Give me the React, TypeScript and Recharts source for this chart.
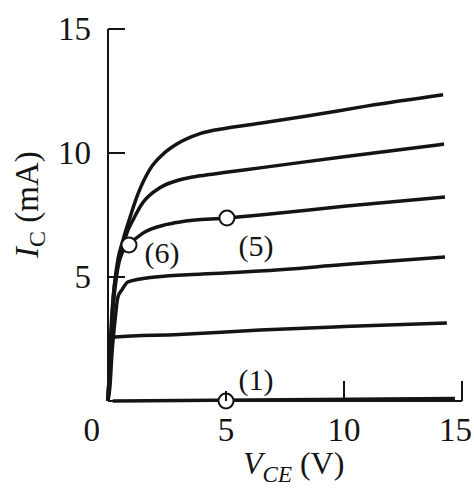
import { LineChart, Line, XAxis, YAxis, ReferenceDot } from 'recharts';

// collector characteristics, [V_CE (V), I_C (mA)], one array per base current
const curveTop = [[0, 0], [0.05, 1.0], [0.13, 2.9], [0.3, 4.9], [0.42, 5.7], [0.64, 6.5], [0.93, 7.4], [1.27, 8.35], [1.78, 9.35], [2.33, 9.95], [2.9, 10.35], [3.9, 10.78], [5, 11.0], [6.44, 11.2], [8.5, 11.5], [11, 11.9], [14.2, 12.35]];
const curve2 = [[0, 0], [0.05, 0.9], [0.13, 2.5], [0.21, 4.0], [0.38, 5.3], [0.59, 6.1], [0.81, 6.8], [1.06, 7.3], [1.48, 8.0], [2.2, 8.6], [3.05, 8.92], [3.9, 9.08], [5, 9.22], [6.44, 9.4], [10, 9.85], [14.24, 10.36]];
const curve3 = [[0, 0], [0.08, 1.65], [0.21, 3.7], [0.38, 5.15], [0.59, 5.95], [0.89, 6.3], [1.48, 6.77], [2.5, 7.12], [3.05, 7.22], [5.04, 7.38], [6.44, 7.5], [10, 7.85], [14.28, 8.23]];
const curve4 = [[0, 0], [0.08, 0.56], [0.17, 1.94], [0.3, 3.27], [0.42, 4.19], [0.59, 4.48], [0.85, 4.8], [2, 5.0], [4, 5.12], [6.44, 5.24], [10, 5.5], [14.28, 5.81]];
const curve5 = [[0, 0], [0.04, 0.85], [0.08, 1.25], [0.17, 2.54], [0.3, 2.58], [3, 2.68], [6.44, 2.86], [10, 3.0], [14.36, 3.15]];
const curveZero = [[0.2, 0], [14.7, 0.1]];
const curves = [curveTop, curve2, curve3, curve4, curve5, curveZero];

const vTicks = [0, 5, 10, 15];
const iTicks = [5, 10, 15];

// marked operating points
const pointLabels = ['(1)', '(5)', '(6)'];
const pointV = [5, 5.04, 0.89];
const pointI = [0, 7.38, 6.29];

const labelOffset: Record<string, [number, number]> = { '(1)': [30, -11], '(5)': [29, 38], '(6)': [33, 18] };

const ink = '#141414';
const serif = '"Liberation Serif", "Times New Roman", serif';

const XTick = ({ x, y, payload }: any) => {
  const v = payload.value;
  const anchor = v === 0 || v === 15 ? 'end' : 'middle';
  const tx = v === 0 ? x - 8 : v === 15 ? x + 10 : x;
  return (
    <g>
      {v > 0 && <line x1={x} y1={y} x2={x} y2={y - (v === 5 ? 10 : 20)} stroke={ink} strokeWidth={2} />}
      <text x={tx} y={y + 40} textAnchor={anchor} fontFamily={serif} fontSize={33} fill={ink}>{v}</text>
    </g>
  );
};

const YTick = ({ x, y, payload }: any) => (
  <g>
    <line x1={x} y1={y} x2={x + 17} y2={y} stroke={ink} strokeWidth={2} />
    <text x={x - 17} y={y + 11} textAnchor="end" fontFamily={serif} fontSize={33} fill={ink}>{payload.value}</text>
  </g>
);

const XLabel = () => (
  <text x={243} y={474} fontFamily={serif} fontSize={32} fill={ink}>
    <tspan fontStyle="italic">V</tspan>
    <tspan fontStyle="italic" fontSize={23} dy={8}>CE</tspan>
    <tspan dy={-8}> (V)</tspan>
  </text>
);

const YLabel = () => (
  <text x={38} y={258} textAnchor="start" transform="rotate(-90 38 258)" fontFamily={serif} fontSize={33} fill={ink}>
    <tspan fontStyle="italic">I</tspan>
    <tspan fontSize={24} dy={7}>C</tspan>
    <tspan dy={-7}> (mA)</tspan>
  </text>
);

const PointDot = (props: any) => {
  const [dx, dy] = labelOffset[props.name];
  return (
    <g>
      <circle cx={props.cx} cy={props.cy} r={7.5} fill="#fff" stroke={ink} strokeWidth={2} />
      <text x={props.cx + dx} y={props.cy + dy} textAnchor="middle" fontFamily={serif} fontSize={30} fill={ink}>{props.name}</text>
    </g>
  );
};

export default function App() {
  return (
    <div style={{ position: 'absolute', left: 0, top: 0, width: 474, height: 496, background: '#fff' }}>
      <LineChart width={474} height={496} margin={{ top: 29, right: 12, bottom: 35, left: 48 }}>
        <XAxis dataKey="v" type="number" domain={[0, 15]} ticks={vTicks} interval={0} height={60}
          axisLine={{ stroke: ink, strokeWidth: 2 }} tickLine={false} tickSize={0} tickMargin={0} tick={<XTick />} label={<XLabel />} />
        <YAxis type="number" domain={[0, 15]} ticks={iTicks} interval={0} width={60}
          axisLine={{ stroke: ink, strokeWidth: 2 }} tickLine={false} tickSize={0} tickMargin={0} tick={<YTick />} label={<YLabel />} />
        {curves.map((c, k) => (
          <Line key={k} data={c.map(([v, i]) => ({ v, i }))} dataKey="i" type="monotone" stroke={ink}
            strokeWidth={3.5} dot={false} activeDot={false} isAnimationActive={false} />
        ))}
        {pointLabels.map((name, k) => (
          <ReferenceDot key={name} x={pointV[k]} y={pointI[k]} r={7.5} name={name} ifOverflow="visible"
            shape={(p: any) => <PointDot {...p} name={name} />} />
        ))}
      </LineChart>
    </div>
  );
}
